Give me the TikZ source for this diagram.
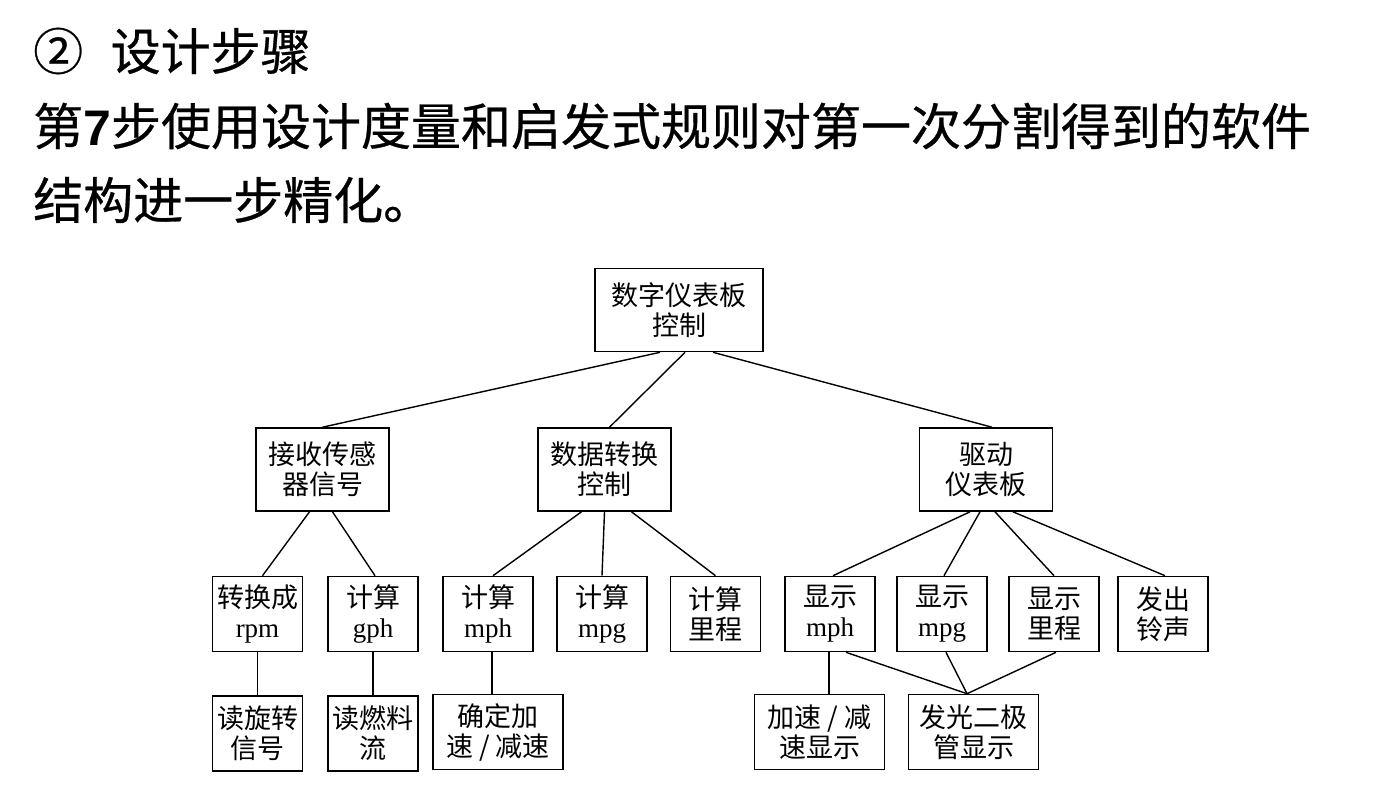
\documentclass[tikz,border=0pt]{standalone}
\usepackage{fontspec}
\setmainfont{Liberation Serif}
\setsansfont{Liberation Sans}
\newfontfamily\cjk{Noto Sans CJK SC}
\newfontfamily\cjkhead[FakeBold=0.6]{Noto Sans CJK SC}
\usepackage{tikz}
\usetikzlibrary{positioning}

\begin{document}
\begin{tikzpicture}[
  x=1pt,y=-1pt,
  node distance=43pt and 23pt,
  box/.style={rectangle,draw,line width=1.6pt,inner sep=0pt,align=center,
    font=\cjk\fontsize{27}{30}\selectfont,minimum width=90pt,minimum height=75pt},
  widebox/.style={box,minimum width=133pt,minimum height=83pt},
  head/.style={anchor=west,inner sep=0pt,font=\cjkhead\fontsize{50}{56}\selectfont},
  link/.style={line width=1.4pt},
]
\useasboundingbox (0,0) rectangle (1376,785);

% heading
\node[head] (title) at (33,51) {②\hspace{0.55em}设计步骤};
\node[head] (line1) at (33,126) {第{\sffamily\bfseries 7}步使用设计度量和启发式规则对第一次分割得到的软件};
\node[head] (line2) at (33,200) {结构进一步精化。};

% tree
\node[widebox,minimum width=168pt] (dash) at (679,310) {数字仪表板\\控制};
\node[widebox] (rcv) at (322.5,469.5) {接收传感\\器信号};
\node[widebox] (conv) at (604.5,469.5) {数据转换\\控制};
\node[widebox] (drive) at (986,469.5) {驱动\\仪表板};

\node[box] (rpm) at (257.5,614) {转换成\\{\rmfamily rpm}};
\node[box] (gph) at (373,614) {计算\\{\rmfamily gph}};
\node[box] (mph) at (488,614) {计算\\{\rmfamily mph}};
\node[box] (mpg) at (602,614) {计算\\{\rmfamily mpg}};
\node[box] (dist) at (715.5,614) {计算\\里程};
\node[box] (smph) at (830,614) {显示\\{\rmfamily mph}};
\node[box] (smpg) at (942,614) {显示\\{\rmfamily mpg}};
\node[box] (sdist) at (1054,614) {显示\\里程};
\node[box] (bell) at (1163,614) {发出\\铃声};

\node[box,below=of rpm] (readrot) {读旋转\\信号};
\node[box,below=of gph] (readfuel) {读燃料\\流};
\node[box,minimum width=130pt] (accel) at (498,732) {确定加\\速 / 减速};
\node[box,minimum width=130pt] (accdisp) at (819.5,732) {加速 / 减\\速显示};
\node[box,minimum width=130pt] (led) at (973.5,732) {发光二极\\管显示};

\draw[link] ([xshift=-19pt]dash.south) -- (rcv.north);
\draw[link] ([xshift=6pt]dash.south) -- ([xshift=5pt]conv.north);
\draw[link] ([xshift=34pt]dash.south) -- ([xshift=6pt]drive.north);
\draw[link] ([xshift=-13pt]rcv.south) -- ([xshift=5pt]rpm.north);
\draw[link] ([xshift=10pt]rcv.south) -- ([xshift=2pt]gph.north);
\draw[link] ([xshift=-23pt]conv.south) -- ([xshift=5pt]mph.north);
\draw[link] (conv.south) -- (mpg.north);
\draw[link] ([xshift=27pt]conv.south) -- (dist.north);
\draw[link] ([xshift=-16pt]drive.south) -- ([xshift=3pt]smph.north);
\draw[link] ([xshift=-6pt]drive.south) -- ([xshift=2pt]smpg.north);
\draw[link] ([xshift=9pt]drive.south) -- (sdist.north);
\draw[link] ([xshift=27pt]drive.south) -- ([xshift=2pt]bell.north);
\draw[link] (rpm) -- (readrot);
\draw[link] (gph) -- (readfuel);
\draw[link] ([xshift=4pt]mph.south) -- ([xshift=-6pt]accel.north);
\draw[link] ([xshift=-1pt]smph.south) -- ([xshift=9.5pt]accdisp.north);
\draw[link] ([xshift=16pt]smph.south) -- ([xshift=-6.5pt]led.north);
\draw[link] ([xshift=4pt]smpg.south) -- ([xshift=-6.5pt]led.north);
\draw[link] ([xshift=2pt]sdist.south) -- ([xshift=-6.5pt]led.north);
\end{tikzpicture}
\end{document}
